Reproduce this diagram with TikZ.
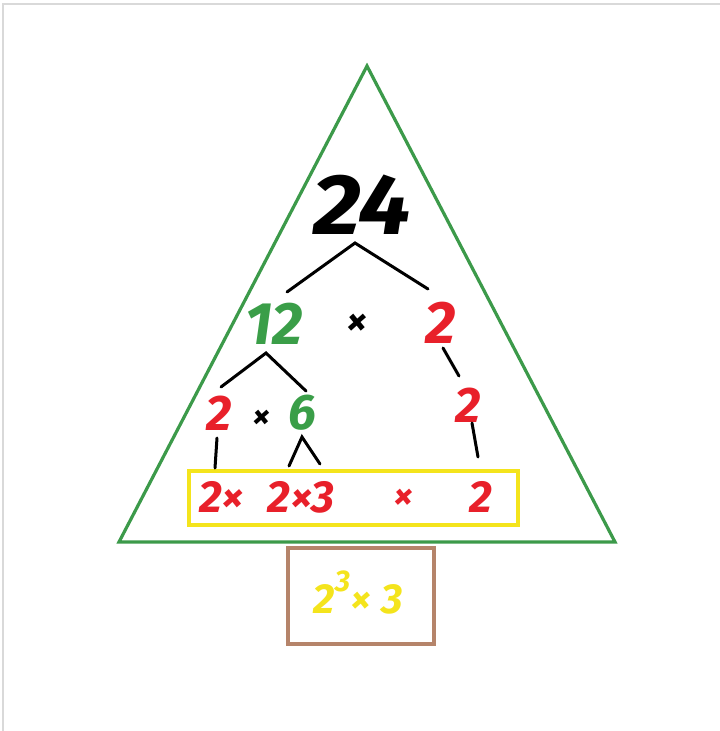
\documentclass[tikz,border=0pt]{standalone}
\usepackage{fontspec}
\setmainfont{Fira Sans}

\begin{document}
\begin{tikzpicture}[x=1pt,y=-1pt]
\definecolor{frameGray}{HTML}{D9D9D9}
\definecolor{treeGreen}{HTML}{3C9A4A}
\definecolor{factorGreen}{HTML}{3A9E48}
\definecolor{primeRed}{HTML}{E8202A}
\definecolor{boxYellow}{HTML}{F4E41C}
\definecolor{trunkBrown}{HTML}{B5846A}
\tikzset{
  num/.style={inner sep=0pt,font=\bfseries\itshape\fontsize{#1}{#1}\selectfont},
  branch/.style={line width=3pt,line cap=round}
}
\useasboundingbox (0,0) rectangle (720,731);
\draw[frameGray,line width=1.5pt] (3,731) -- (3,4) -- (720,4);
% tree and trunk
\draw[treeGreen,line width=3.2pt] (367,66) -- (615,542) -- (119,542) -- cycle;
\draw[boxYellow,line width=3.8pt] (189,471) rectangle (518,525);
\draw[trunkBrown,line width=3.4pt] (288,548) rectangle (434,644);
% factor tree
\node[num=86,xscale=1.1] (n24) at (362,205) {24};
\node[num=60,text=factorGreen] (n12) at (274,324) {12};
\node[num=42] (x1) at (357,325) {×};
\node[num=60,text=primeRed] (r2) at (441,323) {2};
\node[num=50,text=primeRed] (a2) at (219,413) {2};
\node[num=36] (x2) at (262,419) {×};
\node[num=50,text=factorGreen] (n6) at (302,413) {6};
\node[num=50,text=primeRed] (b2) at (468,405) {2};
\node[num=45,text=primeRed] (p1) at (222,497) {2×};
\node[num=45,text=primeRed] (p2) at (301,497) {2×3};
\node[num=40,text=primeRed] (x3) at (404,499) {×};
\node[num=45,text=primeRed] (p3) at (481,497) {2};
\node[num=42,text=boxYellow] (ans) at (358,592) {2\raisebox{22pt}{\fontsize{30}{30}\selectfont 3}× 3};
% branches
\coordinate (f24) at (355,243);
\coordinate (l24) at (287,292);
\coordinate (r24) at (428,289);
\coordinate (f12) at (266,353);
\coordinate (l12) at (221,387);
\coordinate (r12) at (306,391);
\coordinate (f6) at (302,437);
\coordinate (l6) at (289,466);
\coordinate (r6) at (320,464);
\draw[branch] (l24) -- (f24) -- (r24);
\draw[branch] (l12) -- (f12) -- (r12);
\draw[branch] (l6) -- (f6) -- (r6);
\draw[branch] (443,348) coordinate (s1) -- (459,376) coordinate (e1);
\draw[branch] (217,438) coordinate (s2) -- (215,468) coordinate (e2);
\draw[branch] (472,423) coordinate (s3) -- (478,457) coordinate (e3);
\end{tikzpicture}
\end{document}
